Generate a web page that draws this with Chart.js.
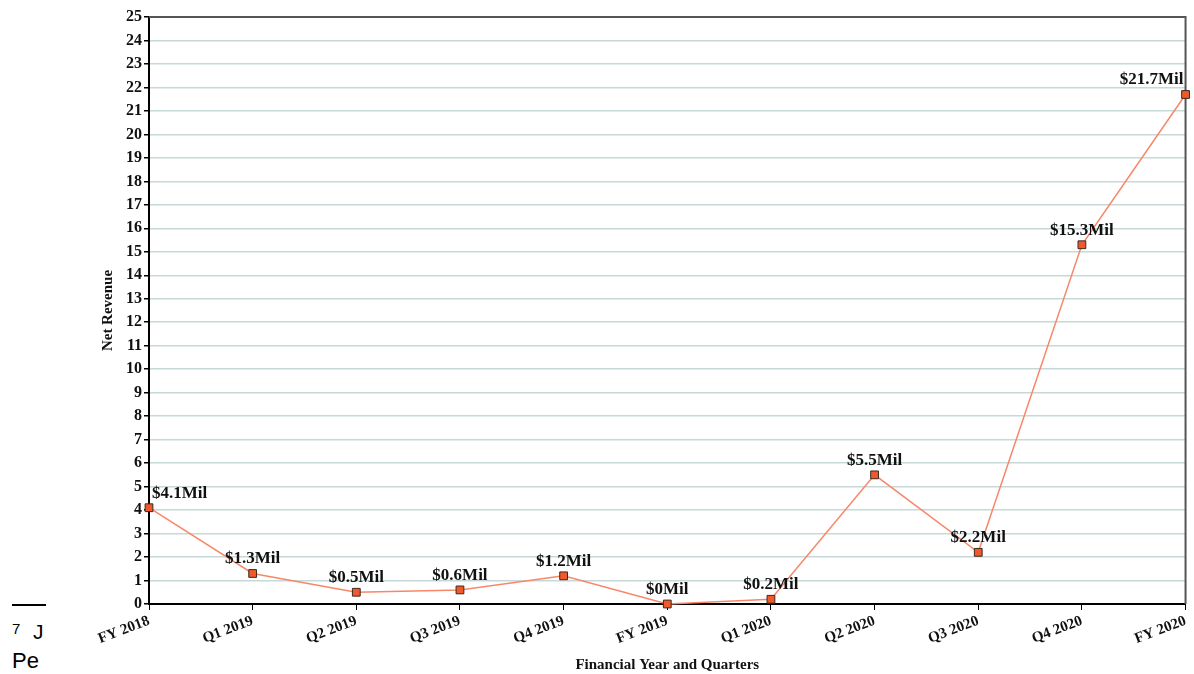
<!DOCTYPE html>
<html>
<head>
<meta charset="utf-8">
<script src="https://cdn.jsdelivr.net/npm/chart.js@4.4.1/dist/chart.umd.min.js"></script>
<style>
  body { margin: 0; background: #fff; }
  #wrap { position: relative; width: 1194px; height: 674px; overflow: hidden; }
  #note { position: absolute; left: 0; top: 0; width: 46px; height: 674px; overflow: hidden; font-family: "Liberation Sans", Arial, sans-serif; color: #000; }
  #note .rule { position: absolute; left: 12px; top: 604px; width: 40px; height: 2px; background: #000; }
  #note .sup { position: absolute; left: 12px; top: 620px; font-size: 15px; }
  #note .l1 { position: absolute; left: 33px; top: 620px; font-size: 21px; }
  #note .l2 { position: absolute; left: 12px; top: 648px; font-size: 22px; }
  canvas { position: absolute; left: 0; top: 0; }
</style>
</head>
<body>
<div id="wrap">
  <div id="note">
    <div class="rule"></div>
    <div class="sup">7</div>
    <div class="l1">J</div>
    <div class="l2">Pe</div>
  </div>
  <canvas id="myChart" width="1194" height="674"></canvas>
</div>
<script>
// data
const periods = ["FY 2018", "Q1 2019", "Q2 2019", "Q3 2019", "Q4 2019", "FY 2019", "Q1 2020", "Q2 2020", "Q3 2020", "Q4 2020", "FY 2020"];
const netRevenue = [4.1, 1.3, 0.5, 0.6, 1.2, 0, 0.2, 5.5, 2.2, 15.3, 21.7];
const revenueLabels = ["$4.1Mil", "$1.3Mil", "$0.5Mil", "$0.6Mil", "$1.2Mil", "$0Mil", "$0.2Mil", "$5.5Mil", "$2.2Mil", "$15.3Mil", "$21.7Mil"];

const serif = "'Liberation Serif', 'Times New Roman', serif";

// labels above each marker + the top/right frame
const valueLabels = {
    id: 'valueLabels',
    beforeDatasetsDraw(chart) {
        const a = chart.chartArea;
        const ctx = chart.ctx;
        ctx.save();
        ctx.strokeStyle = "#555";
        ctx.lineWidth = 2;
        ctx.beginPath();
        ctx.moveTo(a.left, a.top);
        ctx.lineTo(a.right, a.top);
        ctx.lineTo(a.right, a.bottom);
        ctx.stroke();
        ctx.restore();
    },
    afterDatasetsDraw(chart) {
        const ctx = chart.ctx;
        const meta = chart.getDatasetMeta(0);
        ctx.save();
        ctx.font = "bold 17px " + serif;
        ctx.fillStyle = "#111";
        ctx.textBaseline = "bottom";
        meta.data.forEach(function (pt, i) {
            let x = pt.x;
            if (i == 0) {
                ctx.textAlign = "left";
                x = pt.x + 3;
            } else if (i == meta.data.length - 1) {
                ctx.textAlign = "right";
                x = pt.x - 2;
            } else {
                ctx.textAlign = "center";
            }
            ctx.fillText(revenueLabels[i], x, pt.y - 6);
        });
        ctx.restore();
    }
};

const config = {
    type: "line",
    data: {
        labels: periods,
        datasets: [
            {
                label: "Net Revenue",
                data: netRevenue,
                borderColor: "#f8876a",
                borderWidth: 1.5,
                pointStyle: "rect",
                pointRadius: 5.5,
                pointBackgroundColor: "#f2592a",
                pointBorderColor: "#3a2a22",
                pointBorderWidth: 1,
                tension: 0,
                clip: false
            }
        ]
    },
    options: {
        responsive: false,
        animation: false,
        layout: { padding: { left: 95, top: 17, right: 7, bottom: 0 } },
        plugins: {
            legend: { display: false },
            tooltip: { enabled: false }
        },
        scales: {
            x: {
                afterFit: function (scale) { scale.height = 70; },
                grid: {
                    display: true,
                    drawOnChartArea: false,
                    drawTicks: true,
                    tickLength: 6,
                    color: "#000"
                },
                border: { color: "#000", width: 2 },
                ticks: {
                    minRotation: 21,
                    maxRotation: 21,
                    padding: 2,
                    color: "#111",
                    font: { family: serif, size: 15, weight: "bold" }
                },
                title: {
                    display: true,
                    text: "Financial Year and Quarters",
                    color: "#111",
                    padding: { top: 0, bottom: 0 },
                    font: { family: serif, size: 15, weight: "bold" }
                }
            },
            y: {
                min: 0,
                max: 25,
                afterFit: function (scale) { scale.width = 54; },
                grid: {
                    color: "#c6d9d8",
                    lineWidth: 1.5,
                    tickColor: "#000",
                    tickLength: 5
                },
                border: { color: "#000", width: 2 },
                ticks: {
                    stepSize: 1,
                    padding: 2,
                    color: "#111",
                    font: { family: serif, size: 16, weight: "bold" }
                },
                title: {
                    display: true,
                    text: "Net Revenue",
                    color: "#111",
                    padding: { top: 4, bottom: 4 },
                    font: { family: serif, size: 15, weight: "bold" }
                }
            }
        }
    },
    plugins: [valueLabels]
};

const myChart = new Chart(document.getElementById("myChart"), config);
</script>
</body>
</html>
